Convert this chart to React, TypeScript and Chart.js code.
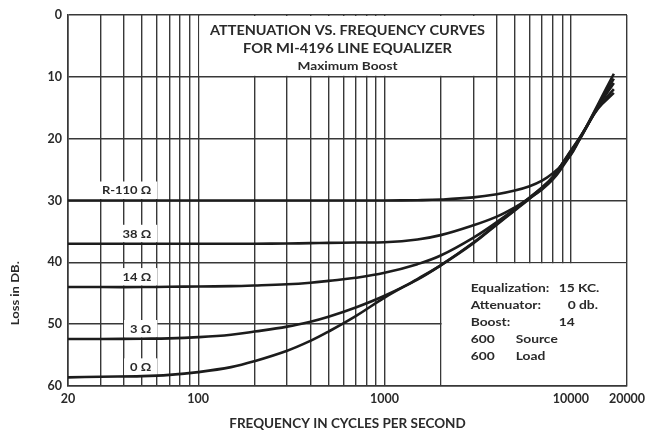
import React, { useEffect, useRef } from "react";
import { Chart, registerables } from "chart.js";

Chart.register(...registerables);

// ---- data ----
const FREQS = [20, 30, 50, 70, 100, 150, 200, 300, 400, 500, 700, 1000, 1500, 2000, 3000, 4000, 5000, 6000, 7000, 8000, 9000, 10000, 11000, 12000, 14000, 17000];
const LOSS_R110 = [30, 30, 30, 30, 30, 30, 30, 30, 30, 30, 30, 30, 29.95, 29.85, 29.5, 29.0, 28.4, 27.7, 26.8, 25.6, 24.2, 22.6, 20.4, 18.3, 14.4, 9.5];
const LOSS_38 = [37, 37, 37, 37, 37, 37, 37, 36.95, 36.9, 36.85, 36.8, 36.75, 36.3, 35.6, 34.0, 32.6, 31.1, 29.6, 28.2, 26.6, 24.6, 22.5, 20.4, 18.4, 14.6, 10.3];
const LOSS_14 = [44, 44, 44, 43.95, 43.9, 43.85, 43.75, 43.55, 43.3, 43.0, 42.5, 41.7, 40.3, 38.9, 36.0, 33.5, 31.4, 29.5, 27.9, 26.2, 24.1, 22.1, 20.2, 18.3, 14.8, 11.0];
const LOSS_3 = [52.4, 52.4, 52.35, 52.3, 52.1, 51.7, 51.2, 50.4, 49.6, 48.8, 47.3, 45.4, 42.8, 40.5, 36.8, 33.8, 31.5, 29.6, 27.9, 26.2, 24.0, 22.0, 20.2, 18.3, 15.0, 12.0];
const LOSS_0 = [58.6, 58.5, 58.4, 58.2, 57.75, 56.95, 56.0, 54.3, 52.7, 51.2, 48.7, 45.7, 42.7, 40.5, 36.9, 33.9, 31.6, 29.7, 28.0, 26.2, 24.0, 21.9, 20.1, 18.3, 15.1, 12.6];
const SERIES = [LOSS_R110, LOSS_38, LOSS_14, LOSS_3, LOSS_0];
const CURVE_LABELS = ["R-110 \u03A9", "38 \u03A9", "14 \u03A9", "3 \u03A9", "0 \u03A9"];
const LABEL_FREQ = 56;

const X_GRID = [20, 30, 40, 50, 60, 70, 80, 90, 100, 200, 300, 400, 500, 600, 700, 800, 900, 1000, 2000, 3000, 4000, 5000, 6000, 7000, 8000, 9000, 10000, 20000];
const X_LABELED = [20, 100, 1000, 10000, 20000];
const Y_MIN = 0;
const Y_MAX = 60;
const Y_STEP = 10;

const TITLE_LINES = ["ATTENUATION VS. FREQUENCY CURVES", "FOR MI-4196 LINE EQUALIZER", "Maximum Boost"];
const TITLE_WIDTHS = [275, 209, 100];
const TITLE_BOX_X = [100, 4000];
const TITLE_BOX_Y = [0, 10];
const INFO_LEFT = ["Equalization:", "Attenuator:", "Boost:", "600", "600"];
const INFO_RIGHT = ["15 KC.", "0 db.", "14", "Source", "Load"];
const INFO_BOX_X = [2000, 20000];
const INFO_BOX_Y = [40, 60];
const X_TITLE = "FREQUENCY IN CYCLES PER SECOND";
const Y_TITLE = "Loss in DB.";

const FONT = "Lato, 'Noto Sans', sans-serif";
const INK = "#2a2a2a";
const GRID = "#383838";

function fillStretch(ctx: any, text: string, x: number, y: number, sx: number, align: string) {
  const w = ctx.measureText(text).width * sx;
  let left = x;
  if (align === "center") left = x - w / 2;
  else if (align === "right") left = x - w;
  ctx.save();
  ctx.textAlign = "left";
  ctx.translate(left, y);
  ctx.scale(sx, 1);
  ctx.fillText(text, 0, 0);
  ctx.restore();
}

const decorPlugin = {
  id: "decor",
  beforeDatasetsDraw(chart: any) {
    const { ctx } = chart;
    const xs = chart.scales.x;
    const ys = chart.scales.y;
    ctx.save();
    ctx.textBaseline = "middle";
    // title box
    const tx0 = xs.getPixelForValue(TITLE_BOX_X[0]);
    const tx1 = xs.getPixelForValue(TITLE_BOX_X[1]);
    const ty0 = ys.getPixelForValue(TITLE_BOX_Y[0]);
    const ty1 = ys.getPixelForValue(TITLE_BOX_Y[1]);
    ctx.fillStyle = "#fff";
    ctx.fillRect(tx0 + 1, ty0 + 1, tx1 - tx0 - 2, ty1 - ty0 - 2);
    const cx = (tx0 + tx1) / 2;
    ctx.fillStyle = INK;
    const tys = [16, 34, 51];
    const tsz = [12.5, 12.5, 11];
    for (let i = 0; i < TITLE_LINES.length; i++) {
      ctx.font = `bold ${tsz[i]}px ${FONT}`;
      const w = ctx.measureText(TITLE_LINES[i]).width;
      fillStretch(ctx, TITLE_LINES[i], cx, ty0 + tys[i], TITLE_WIDTHS[i] / w, "center");
    }

    // info box
    const ix0 = xs.getPixelForValue(INFO_BOX_X[0]);
    const ix1 = xs.getPixelForValue(INFO_BOX_X[1]);
    const iy0 = ys.getPixelForValue(INFO_BOX_Y[0]);
    const iy1 = ys.getPixelForValue(INFO_BOX_Y[1]);
    ctx.fillStyle = "#fff";
    ctx.fillRect(ix0 + 1, iy0 + 1, ix1 - ix0 - 2, iy1 - iy0 - 2);
    ctx.fillStyle = INK;
    ctx.font = `bold 12px ${FONT}`;
    const rightOff = [118, 127, 118, 75, 75];
    for (let i = 0; i < INFO_LEFT.length; i++) {
      const y = iy0 + 26 + i * 17;
      fillStretch(ctx, INFO_LEFT[i], ix0 + 30, y, 1.15, "left");
      fillStretch(ctx, INFO_RIGHT[i], ix0 + rightOff[i], y, 1.15, "left");
    }

    // curve labels
    ctx.font = `bold 12px ${FONT}`;
    const lx = xs.getPixelForValue(LABEL_FREQ);
    for (let i = 0; i < SERIES.length; i++) {
      const curveY = ys.getPixelForValue(SERIES[i][0]);
      const ly = curveY - 10;
      const w = ctx.measureText(CURVE_LABELS[i]).width * 1.08;
      ctx.fillStyle = "#fff";
      ctx.fillRect(lx - w - 6, ly - 9, w + 12, curveY - 1.5 - (ly - 9));
      ctx.fillStyle = INK;
      fillStretch(ctx, CURVE_LABELS[i], lx, ly, 1.08, "right");
    }

    // y title
    ctx.save();
    ctx.translate(15, ys.getPixelForValue(45));
    ctx.rotate(-Math.PI / 2);
    ctx.font = `bold 12px ${FONT}`;
    const yw = ctx.measureText(Y_TITLE).width;
    fillStretch(ctx, Y_TITLE, 0, 0, 64 / yw, "center");
    ctx.restore();
    ctx.restore();
  },
};

export default function App() {
  const ref = useRef<HTMLCanvasElement>(null);
  useEffect(() => {
    if (!ref.current) return;
    const chart = new Chart(ref.current, {
      type: "line",
      data: {
        datasets: SERIES.map((s, k) => ({
          label: CURVE_LABELS[k],
          data: FREQS.map((f, i) => ({ x: f, y: s[i] })),
          borderColor: "#1c1c1c",
          borderWidth: 2.6,
          pointRadius: 0,
          fill: false,
          tension: 0.4,
        })),
      },
      options: {
        animation: false,
        responsive: false,
        layout: { padding: { top: 15, right: 25, left: 0, bottom: 0 } },
        plugins: { legend: { display: false }, tooltip: { enabled: false } },
        scales: {
          x: {
            type: "logarithmic",
            min: 20,
            max: 20000,
            afterBuildTicks: (scale: any) => {
              scale.ticks = X_GRID.map((v) => ({ value: v }));
            },
            afterFit: (scale: any) => {
              scale.height = 47;
            },
            grid: { color: GRID, lineWidth: 1.4, drawTicks: false },
            border: { color: GRID, width: 1.6 },
            ticks: {
              autoSkip: false,
              maxRotation: 0,
              padding: 5,
              color: INK,
              font: { family: FONT, size: 12.5, weight: "bold" },
              callback: (v: any) => (X_LABELED.includes(Number(v)) ? String(v) : ""),
            },
            title: {
              display: true,
              text: X_TITLE,
              color: INK,
              font: { family: FONT, size: 13.5, weight: "bold" },
              padding: { top: 0, bottom: 1 },
            },
          },
          y: {
            type: "linear",
            reverse: true,
            min: Y_MIN,
            max: Y_MAX,
            afterFit: (scale: any) => {
              scale.width = 68;
            },
            grid: { color: GRID, lineWidth: 1.4, drawTicks: false },
            border: { color: GRID, width: 1.6 },
            ticks: {
              stepSize: Y_STEP,
              padding: 6,
              color: INK,
              font: { family: FONT, size: 12.5, weight: "bold" },
            },
          },
        },
      },
      plugins: [decorPlugin],
    } as any);
    return () => chart.destroy();
  }, []);
  return (
    <div style={{ position: "absolute", left: 0, top: 0, width: 652, height: 433, background: "#fff" }}>
      <canvas ref={ref} width={652} height={433} />
    </div>
  );
}
